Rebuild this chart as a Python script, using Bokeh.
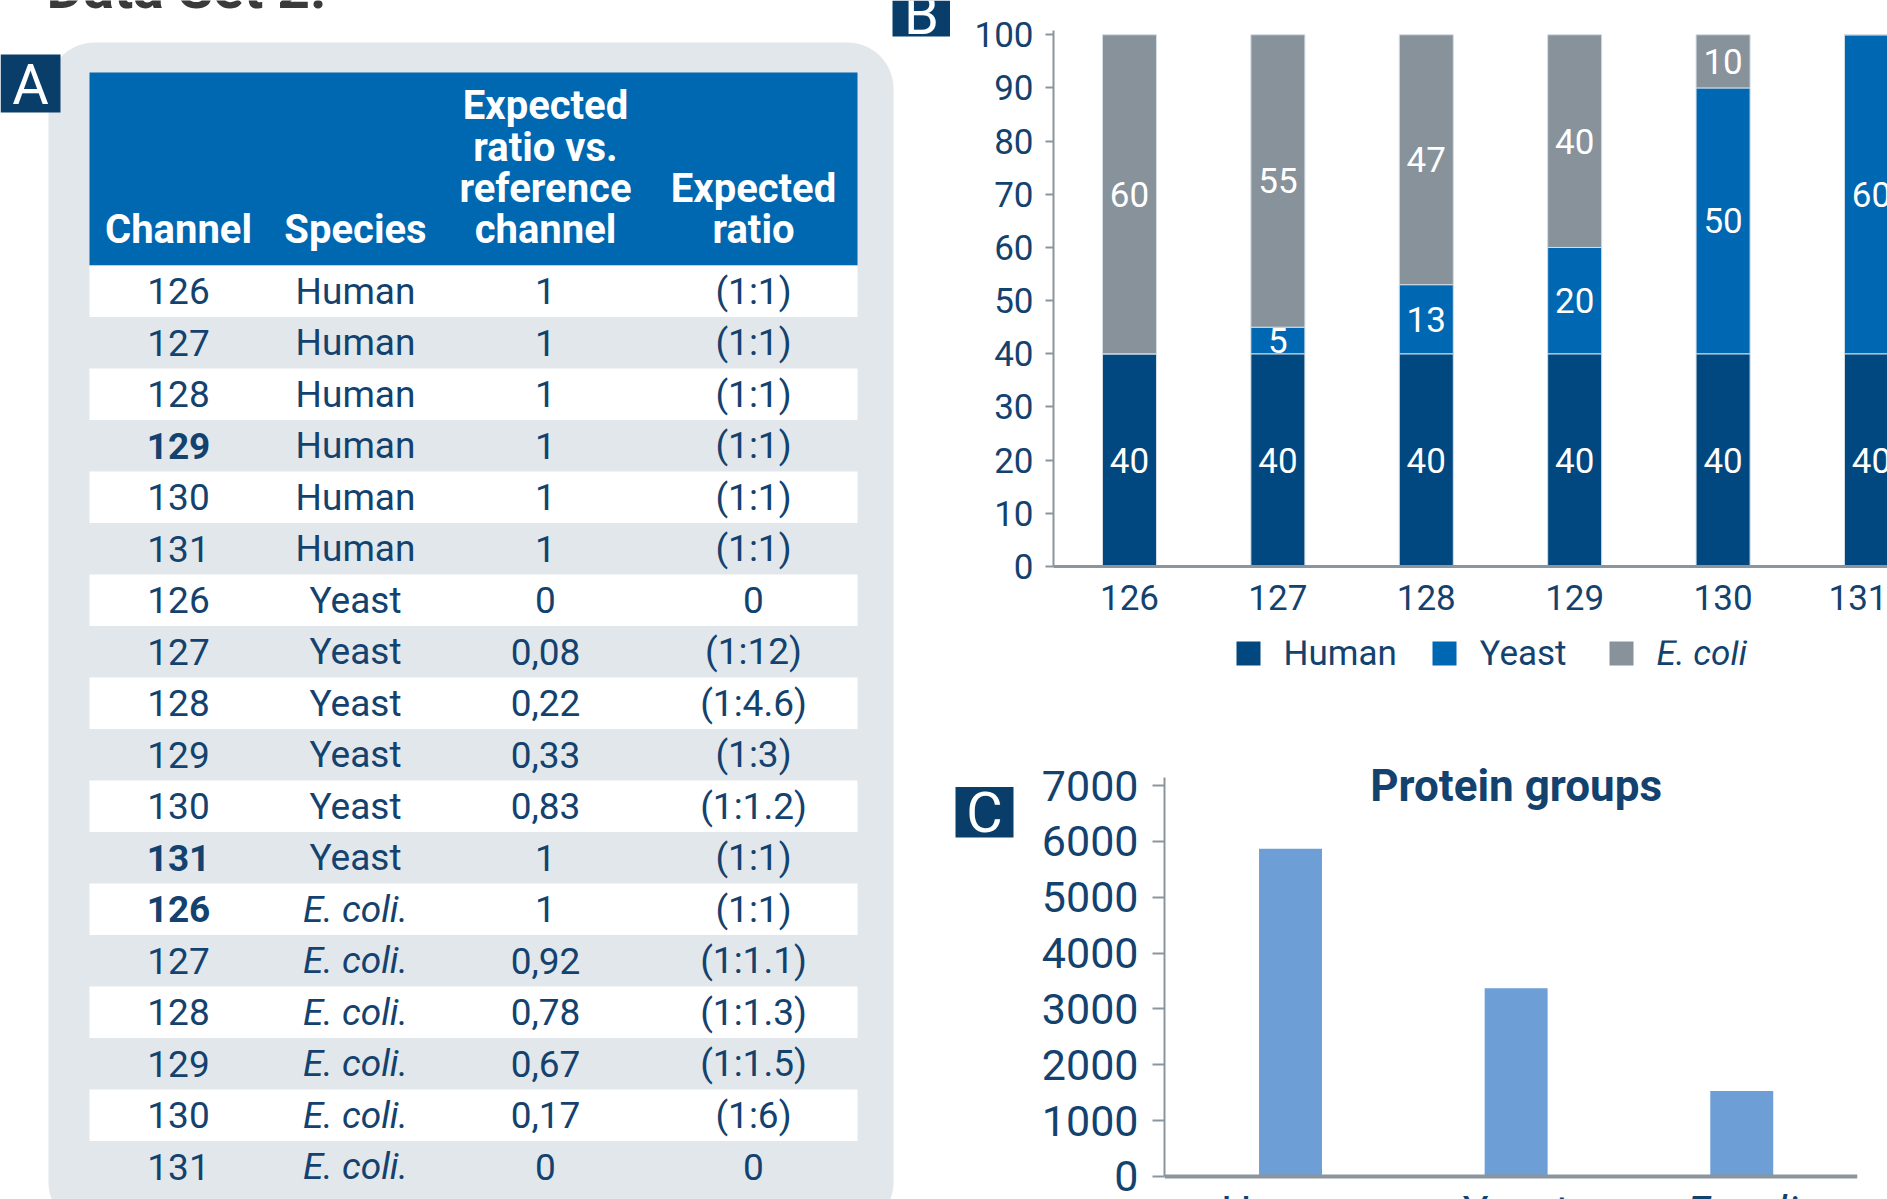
import numpy as np
from bokeh.plotting import figure
from bokeh.layouts import row, column
from bokeh.models import ColumnDataSource, Range1d, FixedTicker, Label, Span
from bokeh.core.properties import value
from bokeh.embed import file_html
from bokeh.resources import INLINE

# ---------------- data ----------------
# Panel A: labelling scheme
table_channels = ["126", "127", "128", "129", "130", "131"] * 3
table_species = ["Human"] * 6 + ["Yeast"] * 6 + ["E. coli."] * 6
table_ratio_vs_ref = ["1", "1", "1", "1", "1", "1",
                      "0", "0,08", "0,22", "0,33", "0,83", "1",
                      "1", "0,92", "0,78", "0,67", "0,17", "0"]
table_expected_ratio = ["(1:1)", "(1:1)", "(1:1)", "(1:1)", "(1:1)", "(1:1)",
                        "0", "(1:12)", "(1:4.6)", "(1:3)", "(1:1.2)", "(1:1)",
                        "(1:1)", "(1:1.1)", "(1:1.3)", "(1:1.5)", "(1:6)", "0"]
reference_rows = [3, 11, 12]          # reference channel for each species
header_channel = ["Channel"]
header_species = ["Species"]
header_vs_ref = ["Expected", "ratio vs.", "reference", "channel"]
header_ratio = ["Expected", "ratio"]

# Panel B: mixing percentages per TMT channel
b_channels = [126, 127, 128, 129, 130, 131]
b_human = [40, 40, 40, 40, 40, 40]
b_yeast = [0, 5, 13, 20, 50, 60]
b_ecoli = [60, 55, 47, 40, 10, 0]
b_series = ["Human", "Yeast", "E. coli"]

# Panel C: identified protein groups
c_species = ["Human", "Yeast", "E. coli"]
c_protein_groups = [5870, 3370, 1530]

# ---------------- style ----------------
FONT = value("Roboto")
NAVY_BOX = "#0a3e6a"
TEXT = "#14426f"
HEADER = "#0067b1"
PANEL = "#e2e7eb"
HUMAN_C = "#00487f"
YEAST_C = "#0067b2"
ECOLI_C = "#87929b"
CBAR = "#6d9ed6"
AXIS = "#8a959d"


def blank(width, height, x0, x1, y0, y1, **kw):
    f = figure(width=width, height=height, x_range=Range1d(x0, x1), y_range=Range1d(y1, y0),
               x_axis_type=None, y_axis_type=None, output_backend="svg",
               toolbar_location=None, min_border=0, **kw)
    f.grid.visible = False
    f.outline_line_color = None
    f.background_fill_color = "white"
    f.border_fill_color = "white"
    return f


def rounded_rect(x0, x1, y0, y1, r):
    a = np.linspace(0, np.pi / 2, 16)
    xs = np.concatenate([x0 + r - r * np.cos(a), x1 - r + r * np.sin(a),
                         x1 - r + r * np.cos(a), x0 + r - r * np.sin(a)])
    ys = np.concatenate([y0 + r - r * np.sin(a), y0 + r - r * np.cos(a),
                         y1 - r + r * np.sin(a), y1 - r + r * np.cos(a)])
    return list(xs), list(ys)


# ---------------- panel A (table) ----------------
t = blank(950, 1199, 0, 950, 0, 1199)

t.text(x=[46], y=[-12], text=["Data Set 2."], text_font=FONT, text_font_size="57px",
       text_font_style="bold", text_color="#3a3a3a", text_baseline="alphabetic")

px, py = rounded_rect(48, 893, 42, 1228, 46)
t.patch(px, py, fill_color=PANEL, line_color=None)

TAB_L, TAB_R = 89, 857
HEAD_TOP, HEAD_BOT = 72, 265
ROW_H = 51.5
col_x = [178, 355, 545, 753]
head_line_y = [105, 147, 188, 229]

t.quad(left=[TAB_L], right=[TAB_R], top=[HEAD_TOP], bottom=[HEAD_BOT],
       fill_color=HEADER, line_color=None)

n_rows = len(table_channels)
band_top = [HEAD_BOT + ROW_H * i for i in range(n_rows) if i % 2 == 0]
t.quad(left=TAB_L, right=TAB_R, top=band_top, bottom=[b + ROW_H for b in band_top],
       fill_color="white", line_color=None)

hx, hy, ht = [], [], []
for cx, lines in zip(col_x, [header_channel, header_species, header_vs_ref, header_ratio]):
    offs = len(head_line_y) - len(lines)
    for k, s in enumerate(lines):
        hx.append(cx)
        hy.append(head_line_y[offs + k])
        ht.append(s)
t.text(x=hx, y=hy, text=ht, text_font=FONT, text_font_size="40px", text_font_style="bold",
       text_color="white", text_align="center", text_baseline="middle")

row_y = [HEAD_BOT + ROW_H * (i + 0.5) for i in range(n_rows)]


def row_text(col, values, idx, style):
    t.text(x=[col_x[col]] * len(idx), y=[row_y[i] for i in idx], text=[values[i] for i in idx],
           text_font=FONT, text_font_size="37px", text_font_style=style, text_color=TEXT,
           text_align="center", text_baseline="middle")


all_idx = list(range(n_rows))
row_text(0, table_channels, [i for i in all_idx if i not in reference_rows], "normal")
row_text(0, table_channels, reference_rows, "bold")
row_text(1, table_species, [i for i in all_idx if table_species[i] != "E. coli."], "normal")
row_text(1, table_species, [i for i in all_idx if table_species[i] == "E. coli."], "italic")
row_text(2, table_ratio_vs_ref, all_idx, "normal")
row_text(3, table_expected_ratio, all_idx, "normal")

# panel letters A and B
t.quad(left=[0, 892], right=[60, 950], top=[54, 0], bottom=[112, 36],
       fill_color=NAVY_BOX, line_color=None)
t.text(x=[30, 921], y=[84, 14], text=["A", "B"], text_font=FONT, text_font_size="56px",
       text_color="white", text_align="center", text_baseline="middle")

# ---------------- panel B (stacked bars) ----------------
src = ColumnDataSource(dict(ch=b_channels, Human=b_human, Yeast=b_yeast, Ecoli=b_ecoli))
b = figure(width=937, height=640, x_range=Range1d(125.488, 131.108), y_range=Range1d(0, 100.8),
           output_backend="svg", toolbar_location=None,
           min_border_left=103, min_border_right=0, min_border_top=30, min_border_bottom=74)
b.grid.visible = False
b.outline_line_color = None
b.vbar_stack(["Human", "Yeast", "Ecoli"], x="ch", width=0.364,
             color=[HUMAN_C, YEAST_C, ECOLI_C], line_color="#d3dde6", line_width=1, source=src)

lx, ly, lt = [], [], []
for i, ch in enumerate(b_channels):
    base = 0
    for v in (b_human[i], b_yeast[i], b_ecoli[i]):
        if v > 0:
            lx.append(ch)
            ly.append(base + v / 2)
            lt.append(str(v))
        base += v
b.text(x=lx, y=ly, text=lt, text_font=FONT, text_font_size="35px", text_color="white",
       text_align="center", text_baseline="middle")

b.xaxis.ticker = FixedTicker(ticks=b_channels)
b.yaxis.ticker = FixedTicker(ticks=list(range(0, 101, 10)))
for ax in (b.xaxis, b.yaxis):
    ax.axis_line_color = AXIS
    ax.major_tick_line_color = AXIS
    ax.major_tick_line_width = 2
    ax.minor_tick_line_color = None
    ax.major_label_text_font = "Roboto"
    ax.major_label_text_color = TEXT
    ax.major_label_text_font_size = "35px"
b.xaxis.axis_line_width = 3
b.yaxis.axis_line_width = 2
b.xaxis.major_tick_out = 0
b.xaxis.major_tick_in = 0
b.xaxis.major_label_standoff = 18
b.yaxis.major_tick_out = 8
b.yaxis.major_tick_in = 0
b.yaxis.major_label_standoff = 12

# legend strip under panel B (frame aligned with panel B's plotting area)
lg = blank(937, 80, 1053, 1887, 640, 720, min_border_left=103)
sq_left = [1236, 1432, 1609]
lg.quad(left=sq_left, right=[s + 24 for s in sq_left], top=641, bottom=665,
        fill_color=[HUMAN_C, YEAST_C, ECOLI_C], line_color=None)
lg.text(x=[s + 47 for s in sq_left[:2]], y=[653, 653], text=b_series[:2], text_font=FONT,
        text_font_size="35px", text_color=TEXT, text_baseline="middle")
lg.text(x=[sq_left[2] + 47], y=[653], text=b_series[2:], text_font=FONT, text_font_size="35px",
        text_font_style="italic", text_color=TEXT, text_baseline="middle")

# ---------------- panel C (protein groups) ----------------
cs = blank(70, 479, 950, 1020, 720, 1199)
cs.quad(left=[955], right=[1013], top=[749], bottom=[804], fill_color=NAVY_BOX, line_color=None)
cs.text(x=[984], y=[777], text=["C"], text_font=FONT, text_font_size="56px", text_color="white",
        text_align="center", text_baseline="middle")

c_pos = list(range(len(c_species)))
c = figure(width=867, height=479, x_range=Range1d(-0.5585, 2.513), y_range=Range1d(-412, 7448),
           x_axis_location=None, output_backend="svg", toolbar_location=None,
           min_border_left=144, min_border_right=30, min_border_top=40, min_border_bottom=0)
c.grid.visible = False
c.outline_line_color = None
c.vbar(x=c_pos, top=c_protein_groups, width=0.279, fill_color=CBAR, line_color=None)
c.add_layout(Span(location=0, dimension="width", line_color=AXIS, line_width=4))

c.yaxis.ticker = FixedTicker(ticks=list(range(0, 7001, 1000)))
c.yaxis.bounds = (0, 7150)
c.yaxis.axis_line_color = AXIS
c.yaxis.axis_line_width = 2
c.yaxis.major_tick_line_color = AXIS
c.yaxis.major_tick_line_width = 2
c.yaxis.major_tick_out = 12
c.yaxis.major_tick_in = 0
c.yaxis.minor_tick_line_color = None
c.yaxis.major_label_standoff = 14
c.yaxis.major_label_text_font = "Roboto"
c.yaxis.major_label_text_font_size = "43px"
c.yaxis.major_label_text_color = TEXT

# category names under the baseline
c.text(x=c_pos[:2], y=[-165, -165], text=c_species[:2], text_font=FONT, text_font_size="43px",
       text_color=TEXT, text_align="center", text_baseline="top")
c.text(x=c_pos[2:], y=[-165], text=c_species[2:], text_font=FONT, text_font_size="43px",
       text_font_style="italic", text_color=TEXT, text_align="center", text_baseline="top")

c.add_layout(Label(x=1, y=7000, text="Protein groups", text_font="Roboto",
                   text_font_size="44px", text_font_style="bold", text_color=TEXT,
                   text_align="center", text_baseline="middle"))

layout = row(t, column(b, lg, row(cs, c)))

with open("out.html", "w") as fh:
    fh.write(file_html(layout, INLINE))
